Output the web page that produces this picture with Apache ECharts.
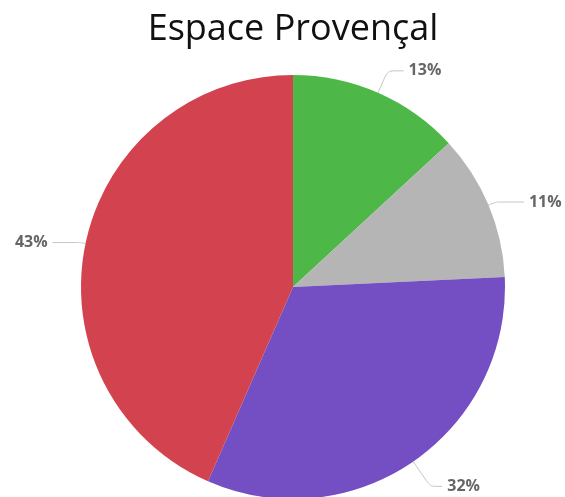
<!DOCTYPE html>
<html>
<head>
<meta charset="utf-8">
<script src="https://cdn.jsdelivr.net/npm/echarts@6/dist/echarts.min.js"></script>
<style>
  html, body { margin: 0; padding: 0; background: #ffffff; }
  #chart { width: 565px; height: 497px; }
</style>
</head>
<body>
<div id="chart"></div>
<script>
// Share of each segment, clockwise from 12 o'clock
const categories = ['Vert', 'Gris', 'Violet', 'Rouge'];
const shares = [13, 11, 32, 43];
const colors = ['#4db847', '#b5b5b5', '#744ec3', '#d3434f'];
// Leader line lengths per slice: [radial part, horizontal part]
const leaderLengths = [[24, 16], [8, 28], [30, 12], [5, 28]];

const chart = echarts.init(document.getElementById('chart'));
chart.setOption({
  animation: false,
  title: {
    text: 'Espace Provençal',
    left: 288,
    top: 7,
    textAlign: 'center',
    textStyle: {
      fontFamily: 'Open Sans',
      fontWeight: 'normal',
      fontSize: 36,
      color: '#111111'
    }
  },
  series: [{
    type: 'pie',
    center: [293, 287],
    radius: [0, 212],
    startAngle: 90,
    clockwise: true,
    data: categories.map((name, i) => ({
      name: name,
      value: shares[i],
      itemStyle: { color: colors[i] },
      labelLine: { length: leaderLengths[i][0], length2: leaderLengths[i][1] }
    })),
    label: {
      show: true,
      formatter: p => shares[p.dataIndex] + '%',
      fontFamily: 'Open Sans',
      fontWeight: 'bold',
      fontSize: 16,
      color: '#666666',
      overflow: 'none',
      width: 60
    },
    labelLine: {
      show: true,
      smooth: 0.2,
      lineStyle: { color: '#c4c4c4', width: 1 }
    }
  }]
});
</script>
</body>
</html>
